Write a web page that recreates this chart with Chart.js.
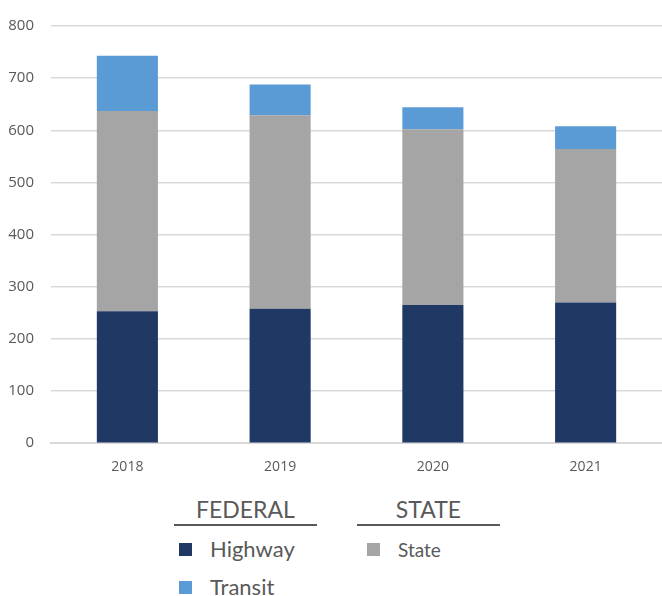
<!DOCTYPE html>
<html>
<head>
<meta charset="utf-8">
<script src="https://cdn.jsdelivr.net/npm/chart.js@4/dist/chart.umd.min.js"></script>
<style>
  body { margin: 0; background: #fff; font-family: Lato, "Open Sans", sans-serif; }
  #wrap { position: relative; width: 662px; height: 596px; }
  #box { position: absolute; left: 0; top: 0; width: 662px; height: 493px; }
  .hdr { position: absolute; top: 494px; color: #595959; font-size: 23px; text-align: center;
         border-bottom: 2px solid #595959; line-height: 30px; }
  .item { position: absolute; color: #595959; font-size: 22px; line-height: 26px; }
  .item span { display: inline-block; width: 13px; height: 13px; margin-right: 18px; vertical-align: 1px; }
</style>
</head>
<body>
<div id="wrap">
  <div id="box"><canvas id="myChart"></canvas></div>
  <div id="legend"></div>
</div>
<script>
const years    = ['2018', '2019', '2020', '2021']
const highway  = [253, 258, 265, 270]
const state    = [384, 371, 337, 294]
const transit  = [106, 59, 42, 44]
const yTicks   = [0, 100, 200, 300, 400, 500, 600, 700, 800]

const colHighway = '#203864'
const colState   = '#a5a5a5'
const colTransit = '#5b9bd5'

const config = {
    type: 'bar',
    data: {
        labels: years,
        datasets: [
            { label: 'Highway', data: highway, backgroundColor: colHighway },
            { label: 'State', data: state, backgroundColor: colState },
            { label: 'Transit', data: transit, backgroundColor: colTransit }
        ]
    },
    options: {
        responsive: true,
        maintainAspectRatio: false,
        animation: false,
        layout: { padding: { left: 0, right: 0, top: 7, bottom: 3 } },
        datasets: { bar: { barPercentage: 0.4, categoryPercentage: 1 } },
        plugins: { legend: { display: false }, tooltip: { enabled: false } },
        scales: {
            x: {
                stacked: true,
                grid: { display: false, drawTicks: false },
                border: { display: true, color: '#d9d9d9', width: 2 },
                ticks: { color: '#595959', padding: 15, font: { family: 'Open Sans', size: 14 } }
            },
            y: {
                stacked: true,
                min: 0,
                max: 800,
                afterBuildTicks: axis => { axis.ticks = yTicks.map(v => ({ value: v })) },
                afterFit: axis => { axis.width = 51 },
                grid: { color: '#d9d9d9', lineWidth: 1.5, drawTicks: false },
                border: { display: false },
                ticks: { color: '#595959', padding: 17, font: { family: 'Open Sans', size: 15 } }
            }
        }
    }
}

const myChart = document.getElementById('myChart')
new Chart(myChart, config)

// custom grouped legend under the chart
const legend = document.getElementById('legend')
legend.innerHTML =
    '<div class="hdr" style="left:174px;width:143px">FEDERAL</div>' +
    '<div class="hdr" style="left:357px;width:143px">STATE</div>' +
    '<div class="item" style="left:179px;top:536px"><span style="background:' + colHighway + '"></span>Highway</div>' +
    '<div class="item" style="left:179px;top:574px"><span style="background:' + colTransit + '"></span>Transit</div>' +
    '<div class="item" style="left:367px;top:537px;font-size:19px"><span style="background:' + colState + '"></span>State</div>'
</script>
</body>
</html>
